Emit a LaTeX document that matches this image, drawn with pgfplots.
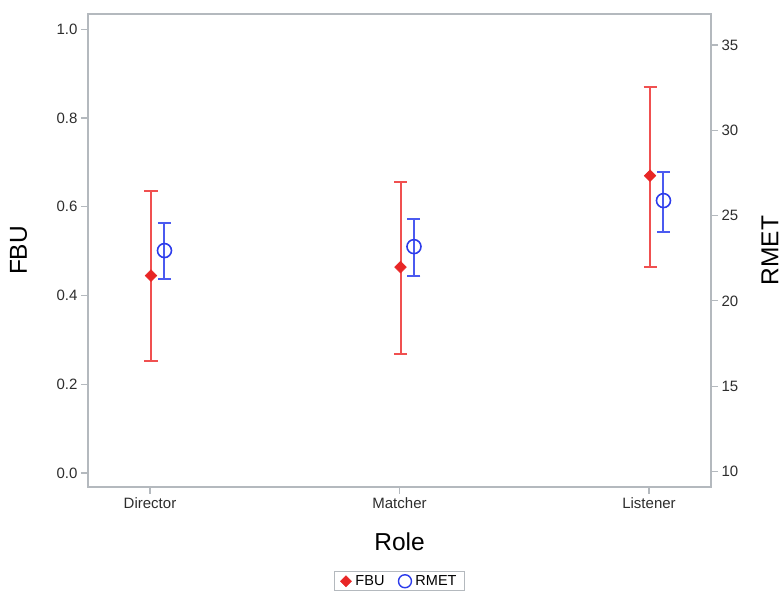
\documentclass[border=0pt]{standalone}
\usepackage{fontspec}
\setmainfont{Liberation Sans}
\usepackage{pgfplots}
\pgfplotsset{compat=1.18}
\definecolor{fbu}{RGB}{232,38,38}
\definecolor{fbubar}{RGB}{240,80,80}
\definecolor{rmet}{RGB}{45,60,235}
\definecolor{rmetbar}{RGB}{75,90,240}
\definecolor{axgray}{RGB}{180,185,190}
\definecolor{txt}{RGB}{45,45,45}
\pgfplotsset{
  fbuerr/.style={error bars/.cd, y dir=both, y explicit,
    error bar style={draw=fbubar, line width=2pt},
    error mark options={rotate=90, draw=fbubar, mark size=6.5pt, line width=2pt}},
  rmeterr/.style={error bars/.cd, y dir=both, y explicit,
    error bar style={draw=rmetbar, line width=2pt},
    error mark options={rotate=90, draw=rmetbar, mark size=6.5pt, line width=2pt}},
}
\begin{document}
\begin{tikzpicture}
\useasboundingbox (0pt,0pt) rectangle (783pt,591pt);
\begin{axis}[
  at={(88pt,104pt)}, anchor=south west,
  width=623pt, height=473pt, scale only axis,
  xmin=-0.2485, xmax=2.2485,
  ymin=-0.0315, ymax=1.0345,
  xtick={0,1,2}, xticklabels={Director,Matcher,Listener},
  ytick={0,0.2,0.4,0.6,0.8,1.0},
  yticklabel style={/pgf/number format/.cd, fixed, fixed zerofill, precision=1},
  xtick pos=left, ytick pos=left, tick align=outside,
  major tick length=7pt,
  axis line style={axgray, line width=1.3pt},
  every tick/.style={axgray, line width=1.2pt},
  tick label style={font=\fontsize{15}{17}\selectfont, text=txt},
  /pgf/number format/assume math mode=true,
  xlabel={Role}, ylabel={FBU},
  label style={font=\fontsize{24.5}{27}\selectfont},
  xlabel style={at={(axis description cs:0.5,-0.1163)}, anchor=center},
  ylabel style={at={(axis description cs:-0.1116,0.5)}, anchor=center},
  clip=false,
]
\addplot[only marks, mark=square*, draw=fbubar, line width=2pt, mark size=4.1pt,
  mark options={rotate=45, fill=fbu, draw=fbu, line width=0.6pt}, fbuerr]
  table[x=x, y=y, y error plus=ep, y error minus=em] {
x y ep em
0.004 0.445 0.191 0.192
1.004 0.464 0.191 0.195
2.004 0.670 0.201 0.205
};
\end{axis}
\begin{axis}[
  at={(88pt,104pt)}, anchor=south west,
  width=623pt, height=473pt, scale only axis,
  xmin=-0.2485, xmax=2.2485,
  ymin=9.086, ymax=36.82,
  axis x line=none, axis y line*=right,
  ytick={10,15,20,25,30,35},
  tick align=outside, major tick length=7pt,
  axis line style={axgray, line width=1.3pt},
  every tick/.style={axgray, line width=1.2pt},
  tick label style={font=\fontsize{15}{17}\selectfont, text=txt},
  /pgf/number format/assume math mode=true,
  ylabel={RMET},
  label style={font=\fontsize{24.5}{27}\selectfont},
  ylabel style={at={(axis description cs:1.0947,0.5)}, anchor=center},
  clip=false,
  legend style={at={(axis description cs:0.5,-0.1776)}, anchor=north,
    legend columns=2, draw=axgray, line width=1pt, font=\fontsize{14.5}{17}\selectfont,
    inner xsep=6pt,
    /tikz/every even column/.append style={column sep=12pt},
    /tikz/every odd column/.append style={column sep=2pt}},
]
\addlegendimage{only marks, mark=square*, mark size=3.9pt, mark options={rotate=45, fill=fbu, draw=fbu, line width=0.6pt}, fbu}
\addlegendentry{FBU}
\addlegendimage{only marks, mark=o, mark size=6.5pt, mark options={line width=1.4pt, draw=rmet}, rmet}
\addlegendentry{RMET}
\addplot[only marks, mark=o, draw=rmetbar, line width=2pt, mark size=7pt, forget plot,
  mark options={line width=1.6pt, draw=rmet, fill=none}, rmeterr]
  table[x=x, y=y, y error plus=ep, y error minus=em] {
x y ep em
0.058 22.95 1.64 1.68
1.058 23.18 1.62 1.72
2.058 25.88 1.70 1.82
};
\end{axis}
\end{tikzpicture}
\end{document}
